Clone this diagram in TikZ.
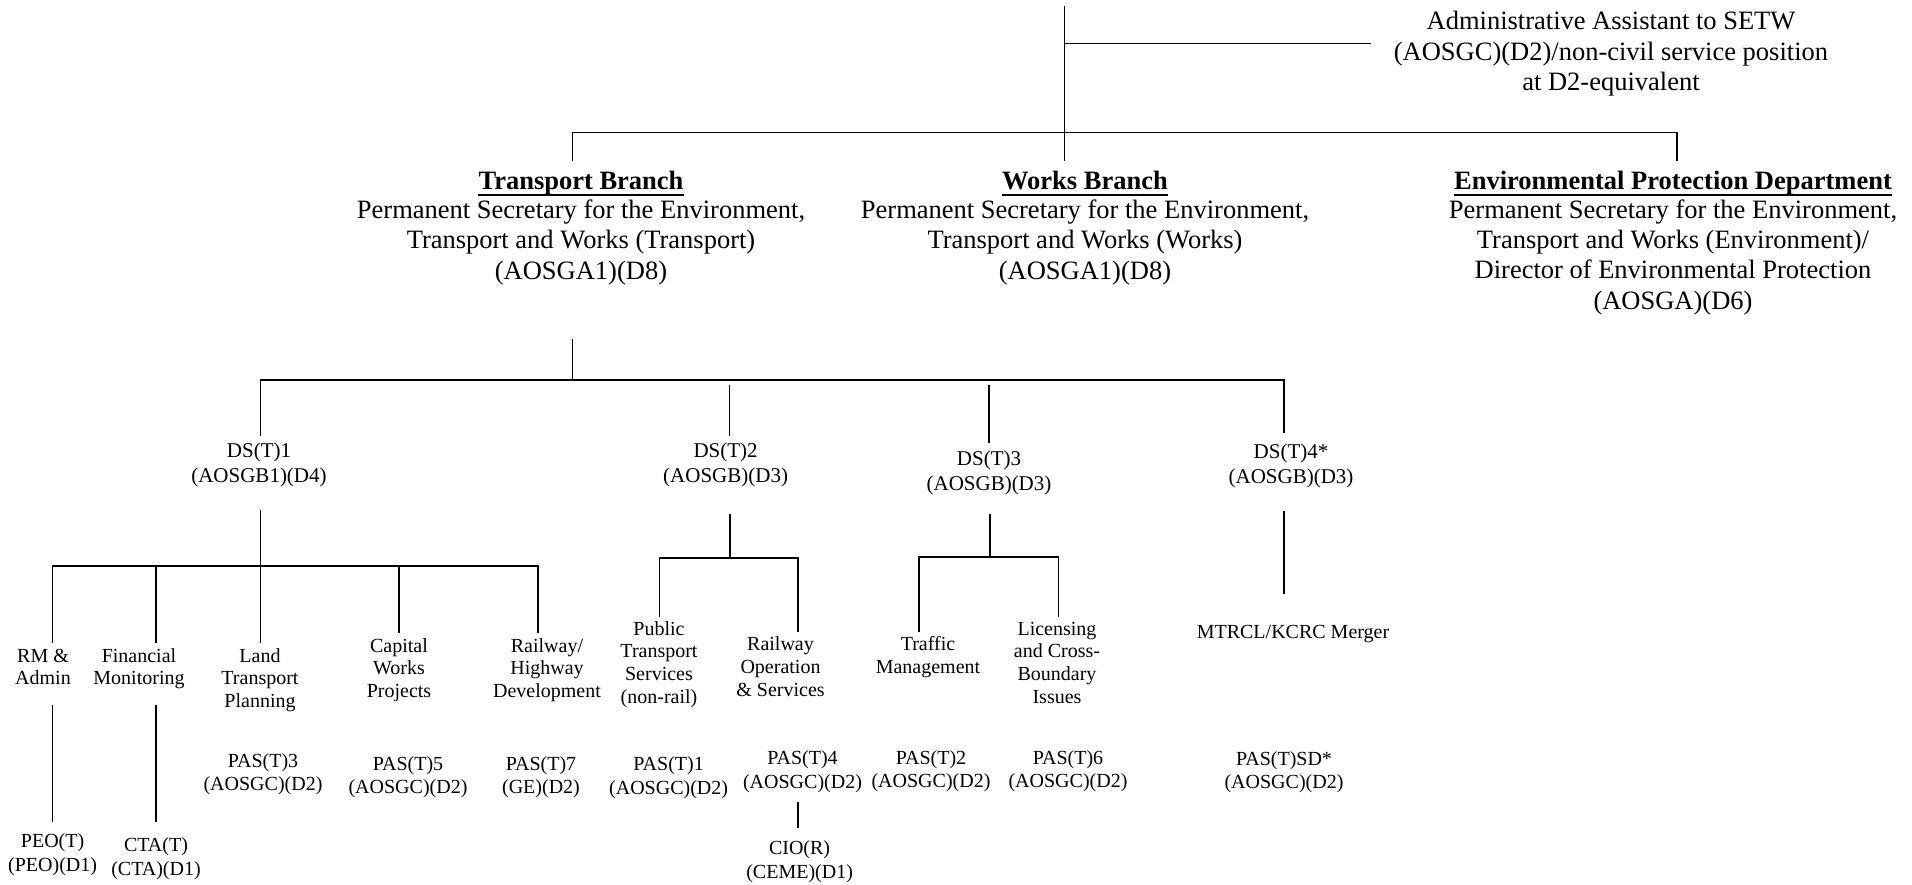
\documentclass[tikz,border=0pt]{standalone}
\usepackage{fontspec}
\setmainfont{Liberation Serif}
\usetikzlibrary{calc}
\begin{document}
\begin{tikzpicture}[x=1pt,y=-1pt,
  conn/.style={line width=1.8pt},
  ul/.style={line width=2pt},
  big/.style={font=\fontsize{26.5}{30.5}\selectfont, align=center, inner sep=0pt, anchor=base},
  bigb/.style={font=\fontsize{26.5}{30.5}\selectfont\bfseries, align=center, inner sep=0pt, anchor=base},
  dsn/.style={font=\fontsize{21}{25}\selectfont, align=center, inner sep=0pt, anchor=base},
  unit/.style={font=\fontsize{20}{22.7}\selectfont, align=center, inner sep=0pt, anchor=base},
  post/.style={font=\fontsize{20}{23.3}\selectfont, align=center, inner sep=0pt, anchor=base},
]
\useasboundingbox (0,0) rectangle (1912,885);

% node coordinates give the baseline of the LAST line of each text

% ---------- top level ----------
\node[big] (admin) at (1611,91) {Administrative Assistant to SETW\\(AOSGC)(D2)/non-civil service position\\at D2-equivalent};

\node[bigb] (tbt) at (581,189.5) {Transport Branch};
\node[big] (tb) at (581,279.5) {Permanent Secretary for the Environment,\\Transport and Works (Transport)\\(AOSGA1)(D8)};
\node[bigb] (wbt) at (1085,189.5) {Works Branch};
\node[big] (wb) at (1085,279.5) {Permanent Secretary for the Environment,\\Transport and Works (Works)\\(AOSGA1)(D8)};
\node[bigb] (ept) at (1673,189.5) {Environmental Protection Department};
\node[big] (ep) at (1673,309.5) {Permanent Secretary for the Environment,\\Transport and Works (Environment)/\\Director of Environmental Protection\\(AOSGA)(D6)};

\foreach \n in {tbt,wbt,ept}{
  \draw[ul] ($(\n.base west)+(0,6)$) -- ($(\n.base east)+(0,6)$);
}

\coordinate (top) at (1064.5,6);
\coordinate (adminj) at (1064.5,43.5);
\coordinate (admine) at (1371,43.5);
\coordinate (barj) at (1064.5,132.5);
\coordinate (tbin) at (572.5,161.5);
\coordinate (wbin) at (1064.5,161.5);
\coordinate (epin) at (1677,161.5);
\draw[conn] (top) -- (barj);
\draw[conn] (adminj) -- (admine);
\draw[conn] (tbin) -- (tbin |- barj) -- (epin |- barj) -- (epin);
\draw[conn] (barj) -- (wbin);

% ---------- deputy secretaries ----------
\node[dsn] (ds1) at (259,482.7) {DS(T)1\\(AOSGB1)(D4)};
\node[dsn] (ds2) at (725.6,482.7) {DS(T)2\\(AOSGB)(D3)};
\node[dsn] (ds3) at (989,490) {DS(T)3\\(AOSGB)(D3)};
\node[dsn] (ds4) at (1291,483) {DS(T)4*\\(AOSGB)(D3)};

\coordinate (tbout) at (572.5,339);
\coordinate (dsbar) at (572.5,380);
\coordinate (ds1in) at (260.4,436);
\coordinate (ds2top) at (729.5,385);
\coordinate (ds2in) at (729.5,436);
\coordinate (ds3top) at (989,385);
\coordinate (ds3in) at (989,442.7);
\coordinate (ds4in) at (1283.7,432.7);
\draw[conn] (tbout) -- (dsbar);
\draw[conn] (ds1in) -- (ds1in |- dsbar) -- (ds4in |- dsbar) -- (ds4in);
\draw[conn] (ds2top) -- (ds2in);
\draw[conn] (ds3top) -- (ds3in);

% ---------- DS(T)1 sections ----------
\node[unit] (rm) at (43,684.7) {RM \&\\Admin};
\node[unit] (fm) at (139,684.7) {Financial\\Monitoring};
\node[unit] (ltp) at (260,707.4) {Land\\Transport\\Planning};
\node[unit] (cwp) at (399,697.4) {Capital\\Works\\Projects};
\node[unit] (rhd) at (547,697.4) {Railway/\\Highway\\Development};

\coordinate (ds1out) at (260.4,510);
\coordinate (s1bar) at (260.4,566);
\coordinate (rmin) at (52.5,643);
\coordinate (fmin) at (156,643);
\coordinate (ltpin) at (260.4,643);
\coordinate (cwpin) at (399,633);
\coordinate (rhdin) at (538,633);
\draw[conn] (ds1out) -- (s1bar);
\draw[conn] (rmin) -- (rmin |- s1bar) -- (rhdin |- s1bar) -- (rhdin);
\draw[conn] (fmin |- s1bar) -- (fmin);
\draw[conn] (ltpin |- s1bar) -- (ltpin);
\draw[conn] (cwpin |- s1bar) -- (cwpin);

\node[post] (peo) at (52.6,871) {PEO(T)\\(PEO)(D1)};
\node[post] (cta) at (156,875) {CTA(T)\\(CTA)(D1)};
\coordinate (rmout) at (52.5,705);
\coordinate (peoin) at (52.5,822);
\coordinate (fmout) at (156,705);
\coordinate (ctain) at (156,822);
\draw[conn] (rmout) -- (peoin);
\draw[conn] (fmout) -- (ctain);

\node[post] (pas3) at (263,790.3) {PAS(T)3\\(AOSGC)(D2)};
\node[post] (pas5) at (408,793.3) {PAS(T)5\\(AOSGC)(D2)};
\node[post] (pas7) at (541,793.3) {PAS(T)7\\(GE)(D2)};

% ---------- DS(T)2 sections ----------
\node[unit] (pts) at (659,703.1) {Public\\Transport\\Services\\(non-rail)};
\node[unit] (ros) at (780.5,696.1) {Railway\\Operation\\\& Services};
\coordinate (ds2out) at (730,514);
\coordinate (s2bar) at (730,557.7);
\coordinate (ptsin) at (659.5,616.7);
\coordinate (rosin) at (798,632);
\draw[conn] (ds2out) -- (s2bar);
\draw[conn] (ptsin) -- (ptsin |- s2bar) -- (rosin |- s2bar) -- (rosin);

\node[post] (pas1) at (668.6,794) {PAS(T)1\\(AOSGC)(D2)};
\node[post] (pas4) at (802.5,788) {PAS(T)4\\(AOSGC)(D2)};
\node[post] (cio) at (799.6,878) {CIO(R)\\(CEME)(D1)};
\coordinate (pas4out) at (798.2,801.7);
\coordinate (cioin) at (798.2,828.3);
\draw[conn] (pas4out) -- (cioin);

% ---------- DS(T)3 sections ----------
\node[unit] (tm) at (928,673.4) {Traffic\\Management};
\node[unit] (lcb) at (1057,703.1) {Licensing\\and Cross-\\Boundary\\Issues};
\coordinate (ds3out) at (990,514);
\coordinate (s3bar) at (990,557);
\coordinate (tmin) at (919,632);
\coordinate (lcbin) at (1058.4,616.7);
\draw[conn] (ds3out) -- (s3bar);
\draw[conn] (tmin) -- (tmin |- s3bar) -- (lcbin |- s3bar) -- (lcbin);

\node[post] (pas2) at (931,787.3) {PAS(T)2\\(AOSGC)(D2)};
\node[post] (pas6) at (1068,787.3) {PAS(T)6\\(AOSGC)(D2)};

% ---------- DS(T)4 ----------
\node[unit] (mk) at (1293,638) {MTRCL/KCRC Merger};
\coordinate (ds4out) at (1283.7,511);
\coordinate (mkin) at (1283.7,594);
\draw[conn] (ds4out) -- (mkin);
\node[post] (passd) at (1284,788.3) {PAS(T)SD*\\(AOSGC)(D2)};
\end{tikzpicture}
\end{document}
